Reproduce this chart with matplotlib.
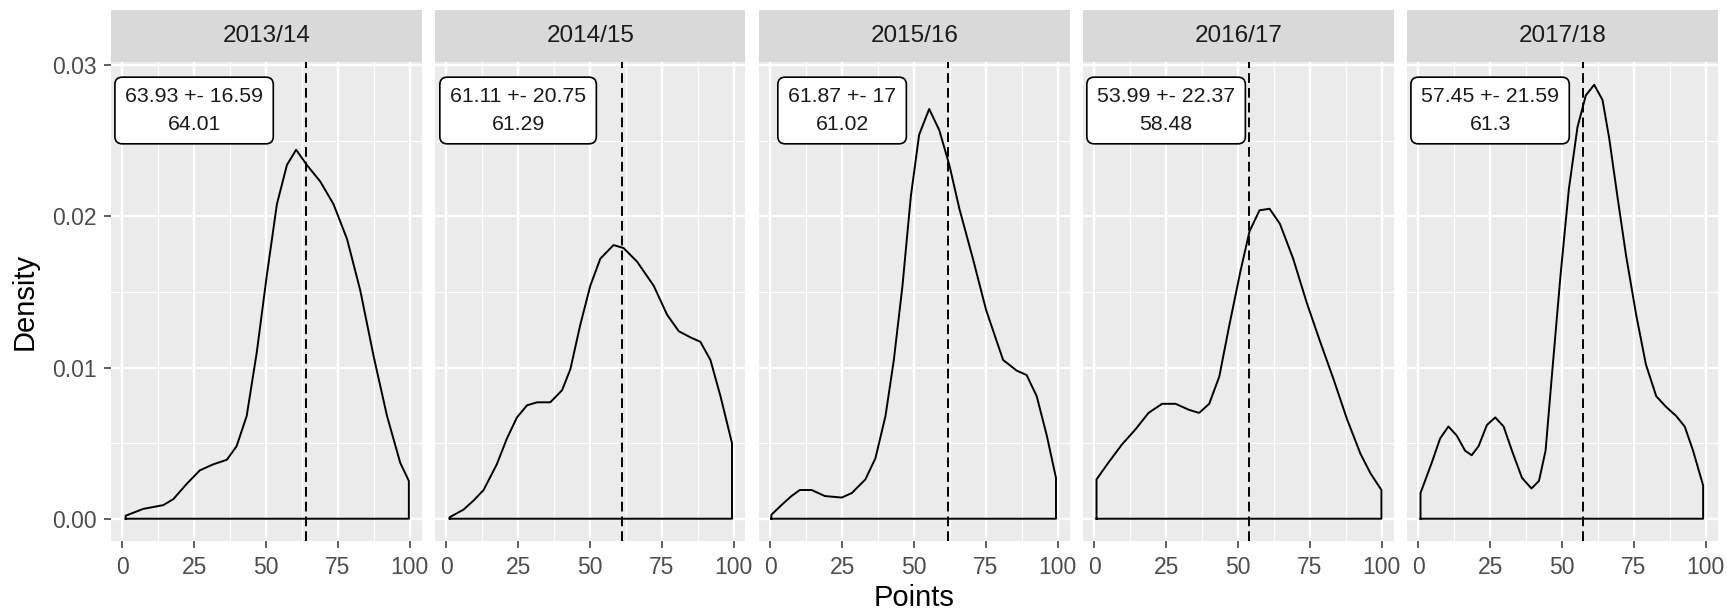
import matplotlib
matplotlib.use('Agg')
import matplotlib.pyplot as plt
from matplotlib.patches import Rectangle

plt.rcParams['font.family'] = ['Liberation Sans', 'DejaVu Sans']

seasons = ["2013/14", "2014/15", "2015/16", "2016/17", "2017/18"]
means = [63.93, 61.11, 61.87, 53.99, 57.45]
sds = [16.59, 20.75, 17, 22.37, 21.59]
medians = [64.01, 61.29, 61.02, 58.48, 61.3]

x_1314 = [1.2, 7.3, 14.3, 17.8, 22.4, 27.0, 31.7, 36.4, 39.8, 43.3, 46.8, 50.3, 53.8, 57.3, 60.5,
          64.2, 68.9, 73.5, 78.2, 82.8, 87.5, 92.1, 96.7, 99.7]
y_1314 = [0.0002, 0.00065, 0.0009, 0.0013, 0.0023, 0.0032, 0.0036, 0.0039, 0.0048, 0.0068, 0.011,
          0.0161, 0.0208, 0.0234, 0.0244, 0.0234, 0.0223, 0.0208, 0.0185, 0.0151, 0.0107, 0.0068,
          0.0037, 0.0025]

x_1415 = [1.2, 6.0, 9.5, 13.0, 17.6, 21.1, 24.6, 28.1, 31.6, 36.2, 40.3, 43.2, 46.6, 50.1, 53.6,
          58.2, 61.7, 66.4, 72.2, 76.8, 80.9, 84.9, 88.4, 91.9, 95.4, 99.4]
y_1415 = [0.0001, 0.0006, 0.0012, 0.0019, 0.0036, 0.0053, 0.0067, 0.0075, 0.0077, 0.0077, 0.0085,
          0.0099, 0.0128, 0.0154, 0.0172, 0.0181, 0.0179, 0.017, 0.0154, 0.0135, 0.0124, 0.012,
          0.0117, 0.0105, 0.0081, 0.005]

x_1516 = [0.4, 3.9, 7.4, 10.3, 14.4, 19.0, 24.9, 28.4, 33.1, 36.6, 40.1, 43.0, 46.0, 48.9, 51.8,
          55.3, 58.8, 62.3, 65.8, 70.5, 75.1, 81.0, 85.7, 89.2, 92.7, 96.2, 99.4]
y_1516 = [0.00026, 0.0009, 0.0015, 0.0019, 0.0019, 0.0015, 0.0014, 0.0017, 0.0026, 0.004, 0.0068,
          0.0105, 0.0154, 0.0213, 0.0254, 0.0271, 0.0257, 0.0234, 0.0205, 0.0172, 0.0138, 0.0105,
          0.0098, 0.0095, 0.0081, 0.0055, 0.0027]

x_1617 = [0.8, 4.9, 9.6, 14.3, 18.9, 23.6, 28.3, 33.0, 36.5, 40.0, 43.5, 47.0, 50.9, 54.0, 57.5,
          61.0, 64.6, 69.2, 73.9, 78.6, 83.3, 87.9, 92.6, 96.1, 99.9]
y_1617 = [0.0026, 0.0037, 0.0049, 0.0059, 0.007, 0.0076, 0.0076, 0.0072, 0.007, 0.0076, 0.0094,
          0.0128, 0.0164, 0.019, 0.0204, 0.0205, 0.0195, 0.0172, 0.0143, 0.0117, 0.0092, 0.0066,
          0.0043, 0.003, 0.0019]

x_1718 = [0.8, 4.7, 7.6, 10.5, 13.4, 16.3, 18.6, 21.0, 23.9, 26.8, 29.7, 32.6, 36.1, 39.4, 42.0,
          44.3, 46.6, 49.5, 52.4, 55.4, 58.3, 61.2, 64.1, 66.4, 69.3, 72.3, 75.8, 79.2, 82.8, 86.2,
          89.7, 92.7, 95.6, 99.1]
y_1718 = [0.0017, 0.0037, 0.0053, 0.0061, 0.0055, 0.0045, 0.0042, 0.0048, 0.0062, 0.0067, 0.0061,
          0.0045, 0.0027, 0.002, 0.0025, 0.0045, 0.0097, 0.0161, 0.0218, 0.0259, 0.028, 0.0287,
          0.0277, 0.0252, 0.0213, 0.0174, 0.0135, 0.0102, 0.0081, 0.0074, 0.0068, 0.0061, 0.0045,
          0.0022]

curves_x = [x_1314, x_1415, x_1516, x_1617, x_1718]
curves_y = [y_1314, y_1415, y_1516, y_1617, y_1718]

x_ticks = [0, 25, 50, 75, 100]
y_ticks = [0.00, 0.01, 0.02, 0.03]
y_ticklabels = ["0.00", "0.01", "0.02", "0.03"]

W, H = 1727, 614
fig = plt.figure(figsize=(W / 100, H / 100), dpi=100)

panel_w = 310.5
gap = 13.5
left0 = 111
top_px = 61.5
bot_px = 540.5
strip_top = 10

PANEL_BG = '#EBEBEB'
STRIP_BG = '#D9D9D9'

for i, season in enumerate(seasons):
    lpx = left0 + i * (panel_w + gap)
    ax = fig.add_axes([lpx / W, 1 - bot_px / H, panel_w / W, (bot_px - top_px) / H])
    ax.set_facecolor(PANEL_BG)
    ax.set_xlim(-3.9, 104.1)
    ax.set_ylim(-0.00144, 0.03024)
    for s in ax.spines.values():
        s.set_visible(False)
    ax.set_xticks(x_ticks)
    ax.set_xticks([12.5, 37.5, 62.5, 87.5], minor=True)
    ax.set_yticks(y_ticks)
    ax.set_yticks([0.005, 0.015, 0.025], minor=True)
    ax.grid(which='major', color='white', lw=1.7)
    ax.grid(which='minor', color='white', lw=0.85)
    ax.set_axisbelow(True)
    ax.tick_params(which='major', length=5.0, width=1.1, color='#333333',
                   labelcolor='#4D4D4D', labelsize=16.5)
    ax.tick_params(axis='x', which='major', pad=6.5)
    ax.tick_params(axis='y', which='major', pad=5.5)
    ax.tick_params(which='minor', length=0)
    if i == 0:
        ax.set_yticklabels(y_ticklabels)
    else:
        ax.tick_params(axis='y', which='both', left=False, labelleft=False)

    xs = curves_x[i]
    ys = curves_y[i]
    px = [xs[0]] + list(xs) + [xs[-1], xs[0]]
    py = [0] + list(ys) + [0, 0]
    ax.plot(px, py, color='black', lw=1.4, solid_joinstyle='round')

    ln = ax.axvline(means[i], color='black', lw=1.4)
    ln.set_dashes((5.0, 2.6))

    label = f"{means[i]:g} +- {sds[i]:g}\n{medians[i]:g}"
    ax.text(25, 0.0270, label, ha='center', va='center', fontsize=15.3,
            color='#1A1A1A', linespacing=1.55,
            bbox=dict(boxstyle='round,pad=0.48,rounding_size=0.35', fc='white',
                      ec='black', lw=1.2))

    # strip
    strip_h = (top_px - strip_top) / (bot_px - top_px)
    ax.add_patch(Rectangle((0, 1), 1, strip_h, transform=ax.transAxes,
                           facecolor=STRIP_BG, edgecolor='none', clip_on=False))
    ax.text(0.5, 1 + strip_h / 2, season, transform=ax.transAxes, ha='center',
            va='center', fontsize=17.5, color='#1A1A1A')

fig.text((left0 + (5 * panel_w + 4 * gap) / 2) / W, 1 - 598 / H, "Points",
         ha='center', va='center', fontsize=21, color='black')
fig.text(25 / W, 1 - ((top_px + bot_px) / 2) / H, "Density", rotation=90,
         ha='center', va='center', fontsize=21, color='black')

fig.savefig('out.png', dpi=100, facecolor='white')
